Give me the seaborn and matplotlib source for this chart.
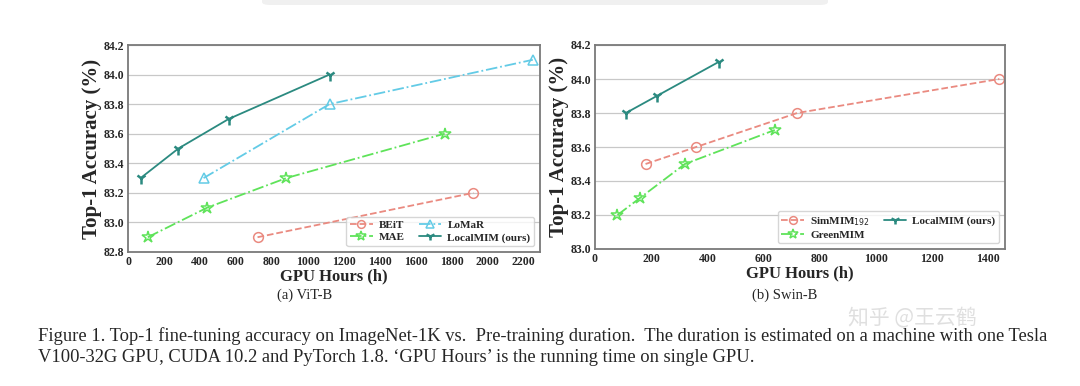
import matplotlib
matplotlib.use('Agg')
import matplotlib.pyplot as plt
from matplotlib.patches import FancyBboxPatch
import seaborn as sns

# ViT-B data
beit_x = [720, 1920]
beit_y = [82.9, 83.2]
mae_x = [110, 440, 880, 1760]
mae_y = [82.9, 83.1, 83.3, 83.6]
lomar_x = [420, 1120, 2250]
lomar_y = [83.3, 83.8, 84.1]
local_vit_x = [70, 280, 560, 1120]
local_vit_y = [83.3, 83.5, 83.7, 84.0]

# Swin-B data
simmim_x = [180, 360, 720, 1440]
simmim_y = [83.5, 83.6, 83.8, 84.0]
green_x = [80, 160, 320, 640]
green_y = [83.2, 83.3, 83.5, 83.7]
local_swin_x = [110, 220, 440]
local_swin_y = [83.8, 83.9, 84.1]

vit_ticks = [0, 200, 400, 600, 800, 1000, 1200, 1400, 1600, 1800, 2000, 2200]
vit_yticks = [82.8, 83.0, 83.2, 83.4, 83.6, 83.8, 84.0, 84.2]
swin_ticks = [0, 200, 400, 600, 800, 1000, 1200, 1400]
swin_yticks = [83.0, 83.2, 83.4, 83.6, 83.8, 84.0, 84.2]

c_red = '#ea8a80'
c_green = '#5fe35a'
c_blue = '#63cbe6'
c_teal = '#2b8a80'

sns.set_style('white')
plt.rcParams['font.family'] = ['Liberation Serif', 'DejaVu Serif']

fig = plt.figure(figsize=(10.8, 3.86), dpi=100)
ax1 = fig.add_axes([128 / 1080, 1 - 252 / 386, 412 / 1080, 207 / 386])
ax2 = fig.add_axes([595 / 1080, 1 - 249 / 386, 410 / 1080, 204 / 386])

# faint grey bar at the very top of the screenshot
fig.patches.append(FancyBboxPatch((262 / 1080, 1 - 5 / 386), 566 / 1080, 8 / 386,
                                  boxstyle='round,pad=0,rounding_size=0.008',
                                  transform=fig.transFigure, facecolor='#f0f0f0',
                                  edgecolor='none'))


def draw(ax, x, y, color, ls, marker, label, ms=7):
    sns.lineplot(x=x, y=y, ax=ax, color=color, linestyle=ls, marker=marker,
                 markersize=ms, markerfacecolor='none' if marker != '1' else color,
                 markeredgecolor=color, markeredgewidth=1.1 if marker != '1' else 1.8,
                 linewidth=1.3, label=label)


def style(ax, xticks, yticks, xmax, ymin):
    ax.set_xlim(0, xmax)
    ax.set_ylim(ymin, 84.2)
    ax.set_xticks(xticks)
    ax.set_yticks(yticks)
    ax.set_xticklabels([str(t) for t in xticks], fontsize=8.5, fontweight='bold')
    ax.set_yticklabels(['%.1f' % t for t in yticks], fontsize=8.5, fontweight='bold')
    ax.yaxis.grid(True, color='#c8c8c8', linewidth=0.9)
    ax.xaxis.grid(False)
    for s in ax.spines.values():
        s.set_color('#7a7a7a')
        s.set_linewidth(1.3)
    ax.tick_params(axis='both', length=2, pad=1, color='#7a7a7a')
    ax.set_xlabel('GPU Hours (h)', fontsize=12, fontweight='bold', labelpad=0)
    ax.set_ylabel('Top-1 Accuracy (%)', fontsize=15, fontweight='bold', labelpad=1)


legend_kw = dict(loc='lower right', ncol=2, prop={'weight': 'bold', 'size': 8},
                 handlelength=2.0, columnspacing=1.2, frameon=True, borderpad=0.35,
                 labelspacing=0.2, markerscale=0.8, handletextpad=0.6)

draw(ax1, beit_x, beit_y, c_red, '--', 'o', 'BEiT')
draw(ax1, mae_x, mae_y, c_green, '-.', '*', 'MAE', ms=9)
draw(ax1, lomar_x, lomar_y, c_blue, '-.', '^', 'LoMaR')
draw(ax1, local_vit_x, local_vit_y, c_teal, '-', '1', 'LocalMIM (ours)', ms=8)
style(ax1, vit_ticks, vit_yticks, 2290, 82.8)
ax1.legend(**legend_kw)

draw(ax2, simmim_x, simmim_y, c_red, '--', 'o', r'SimMIM$_{192}$')
draw(ax2, green_x, green_y, c_green, '-.', '*', 'GreenMIM', ms=9)
draw(ax2, local_swin_x, local_swin_y, c_teal, '-', '1', 'LocalMIM (ours)', ms=8)
style(ax2, swin_ticks, swin_yticks, 1460, 83.0)
ax2.legend(**legend_kw)

fig.text(305 / 1080, 1 - 295 / 386, '(a) ViT-B', ha='center', va='center', fontsize=10.5)
fig.text(785 / 1080, 1 - 295 / 386, '(b) Swin-B', ha='center', va='center', fontsize=10.5)

fig.text(38 / 1080, 1 - 336 / 386,
         'Figure 1. Top-1 fine-tuning accuracy on ImageNet-1K vs.  Pre-training duration.  '
         'The duration is estimated on a machine with one Tesla',
         ha='left', va='center', fontsize=13.3)
fig.text(38 / 1080, 1 - 358 / 386,
         'V100-32G GPU, CUDA 10.2 and PyTorch 1.8. \u2018GPU Hours\u2019 is the running time on single GPU.',
         ha='left', va='center', fontsize=13.3)

fig.text(912 / 1080, 1 - 318 / 386, '知乎 @王云鹤', ha='center', va='center',
         fontsize=15, color='#d8d8d8', alpha=0.8,
         family=['Noto Sans CJK SC', 'DejaVu Sans'])

fig.savefig('out.png', dpi=100, facecolor='white')
